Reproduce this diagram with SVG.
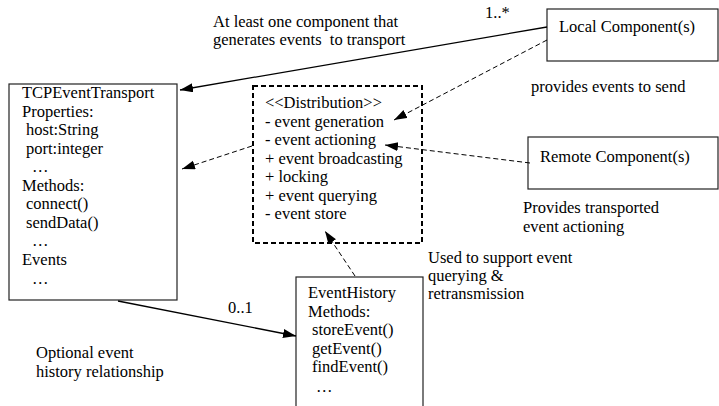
<svg xmlns="http://www.w3.org/2000/svg" width="719" height="406" viewBox="0 0 719 406">
<style>
text{font-family:"Liberation Serif","Times New Roman",serif;font-size:16.5px;fill:#000}
.box{fill:#fff;stroke:#222;stroke-width:1.2}
.dbox{fill:#fff;stroke:#000;stroke-width:2;stroke-dasharray:5,3}
.solid{fill:none;stroke:#000;stroke-width:1.3}
.dash{fill:none;stroke:#000;stroke-width:1;stroke-dasharray:5,3}
</style>
<defs>
<marker id="ah" markerUnits="userSpaceOnUse" markerWidth="14" markerHeight="10" refX="13" refY="4.5" orient="auto">
<path d="M0,0 L13,4.5 L0,9 z" fill="#000"/>
</marker>
</defs>
<rect width="719" height="406" fill="#fff"/>

<g id="tcp">
<rect class="box" x="9" y="84" width="168" height="216"/>
<text x="22" y="98">TCPEventTransport</text>
<text x="22" y="116.5">Properties:</text>
<text x="26" y="135">host:String</text>
<text x="26" y="153.5">port:integer</text>
<text x="32" y="172">…</text>
<text x="22" y="190.5">Methods:</text>
<text x="26" y="209">connect()</text>
<text x="26" y="227.5">sendData()</text>
<text x="32" y="246">…</text>
<text x="22" y="265">Events</text>
<text x="32" y="284">…</text>
</g>

<g id="distribution">
<rect class="dbox" x="253" y="86" width="169" height="157"/>
<text x="265" y="108">&lt;&lt;Distribution&gt;&gt;</text>
<text x="265" y="126.5">- event generation</text>
<text x="265" y="145">- event actioning</text>
<text x="265" y="163.5">+ event broadcasting</text>
<text x="265" y="182">+ locking</text>
<text x="265" y="200.5">+ event querying</text>
<text x="265" y="219">- event store</text>
</g>

<g id="local">
<rect class="box" x="547" y="9" width="171" height="52"/>
<text x="559" y="32">Local Component(s)</text>
</g>

<g id="remote">
<rect class="box" x="528" y="137" width="190" height="52"/>
<text x="540" y="162">Remote Component(s)</text>
</g>

<g id="history">
<rect class="box" x="296" y="277" width="127" height="140"/>
<text x="308" y="298">EventHistory</text>
<text x="308" y="316.5">Methods:</text>
<text x="312" y="335">storeEvent()</text>
<text x="312" y="353.5">getEvent()</text>
<text x="312" y="372">findEvent()</text>
<text x="316" y="392">…</text>
</g>

<g id="connectors">
<line class="solid" x1="547" y1="27" x2="180" y2="90" marker-end="url(#ah)"/>
<line class="dash" x1="547" y1="40" x2="394" y2="120" marker-end="url(#ah)"/>
<line class="dash" x1="530" y1="163" x2="385" y2="145" marker-end="url(#ah)"/>
<line class="dash" x1="252" y1="146" x2="182" y2="169" marker-end="url(#ah)"/>
<line class="dash" x1="355" y1="276" x2="325" y2="231" marker-end="url(#ah)"/>
<line class="solid" x1="118" y1="301" x2="296" y2="336" marker-end="url(#ah)"/>
</g>

<g id="labels">
<text x="213" y="27">At least one component that</text>
<text x="213" y="45" xml:space="preserve">generates events  to transport</text>
<text x="485" y="18">1..*</text>
<text x="531" y="92">provides events to send</text>
<text x="523" y="213">Provides transported</text>
<text x="523" y="231.5">event actioning</text>
<text x="428" y="263">Used to support event</text>
<text x="428" y="281">querying &amp;</text>
<text x="428" y="299">retransmission</text>
<text x="228" y="313">0..1</text>
<text x="36" y="358">Optional event</text>
<text x="36" y="377">history relationship</text>
</g>
</svg>
